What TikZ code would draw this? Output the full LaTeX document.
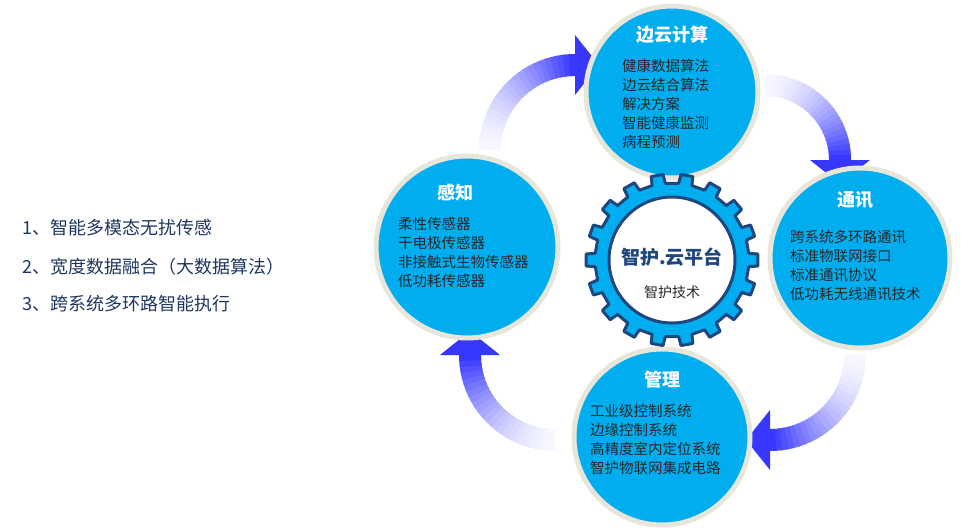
\documentclass[tikz,border=0pt]{standalone}
\usepackage{fontspec}
\setmainfont{Noto Sans CJK SC}
\begin{document}
\begin{tikzpicture}[x=1pt,y=1pt,
  bub/.style={circle,fill=cyanb,draw=rimc,line width=5pt,minimum size=#1},
  ttl/.style={text=white,font=\fontsize{18}{20}\selectfont\bfseries},
  itm/.style={anchor=north west,align=left,text=txtc,inner sep=0pt,font=\fontsize{14.5}{19}\selectfont},
  lst/.style={anchor=west,text=lstc,inner sep=0pt,font=\fontsize{18}{20}\selectfont}]
\definecolor{cyanb}{RGB}{0,174,239}
\definecolor{rimc}{RGB}{232,230,218}
\definecolor{txtc}{RGB}{40,40,40}
\definecolor{lstc}{RGB}{30,55,95}
\definecolor{navy}{RGB}{31,70,125}
\definecolor{arb}{RGB}{55,55,255}
\useasboundingbox (0,0) rectangle (974,-531);
% arrows
\newcommand{\garrow}[4]{%
 \begin{scope}[shift={(#1)}]
 \foreach \i in {0,...,23}{
   \pgfmathsetmacro{\aa}{#3+(#4-#3)*\i/24}
   \pgfmathsetmacro{\bb}{#3+(#4-#3)*(\i+1.3)/24}
   \pgfmathsetmacro{\pc}{4+96*(\i/23)^1.6}
   \draw[line width=22pt,draw=arb!\pc!white] (\aa:#2) arc[start angle=\aa,end angle=\bb,radius=#2];
 }
 \begin{scope}[rotate=#4]
  \fill[arb] (#2-30,0) -- (#2+30,0) -- (#2,-24) -- cycle;
 \end{scope}
 \end{scope}}
\garrow{765,-160}{75}{90}{0}
\garrow{770,-355}{85}{0}{-90}
\garrow{555,-355}{85}{-90}{-180}
\garrow{575,-150}{85}{180}{90}
% bubbles
\node[bub=172pt] (top) at (672,-92) {};
\node[bub=182pt] (lft) at (467,-247) {};
\node[bub=180pt] (rgt) at (860,-258) {};
\node[bub=176pt] (bot) at (662,-437) {};
% gear
\begin{scope}[shift={(672,-260)}]
\draw[fill=cyanb,draw=navy,line width=3pt,line join=round]
  (-5:77) \foreach \k in {0,...,17}{ -- (\k*20-4:86) -- (\k*20+4:86) -- (\k*20+5:77) -- (\k*20+15:77)} -- cycle;
\draw[fill=white,draw=navy,line width=3pt] (0,0) circle (63);
\end{scope}
\node[text=navy,font=\fontsize{19}{22}\selectfont\bfseries] (gt) at (672,-257) {智护.云平台};
\node[text=txtc,font=\fontsize{14}{16}\selectfont] (gs) at (672,-292) {智护技术};
% titles & items
\node[ttl] (t1) at (672,-35) {边云计算};
\node[itm] (i1) at (622,-59) {健康数据算法\\边云结合算法\\解决方案\\智能健康监测\\病程预测};
\node[ttl] (t2) at (455,-193) {感知};
\node[itm] (i2) at (398,-217) {柔性传感器\\干电极传感器\\非接触式生物传感器\\低功耗传感器};
\node[ttl] (t3) at (855,-200) {通讯};
\node[itm] (i3) at (790,-230) {跨系统多环路通讯\\标准物联网接口\\标准通讯协议\\低功耗无线通讯技术};
\node[ttl] (t4) at (662,-380) {管理};
\node[itm] (i4) at (590,-404) {工业级控制系统\\边缘控制系统\\高精度室内定位系统\\智护物联网集成电路};
% list
\node[lst] (l1) at (22,-228) {1、智能多模态无扰传感};
\node[lst] (l2) at (22,-267) {2、宽度数据融合（大数据算法）};
\node[lst] (l3) at (22,-304) {3、跨系统多环路智能执行};
\end{tikzpicture}
\end{document}
